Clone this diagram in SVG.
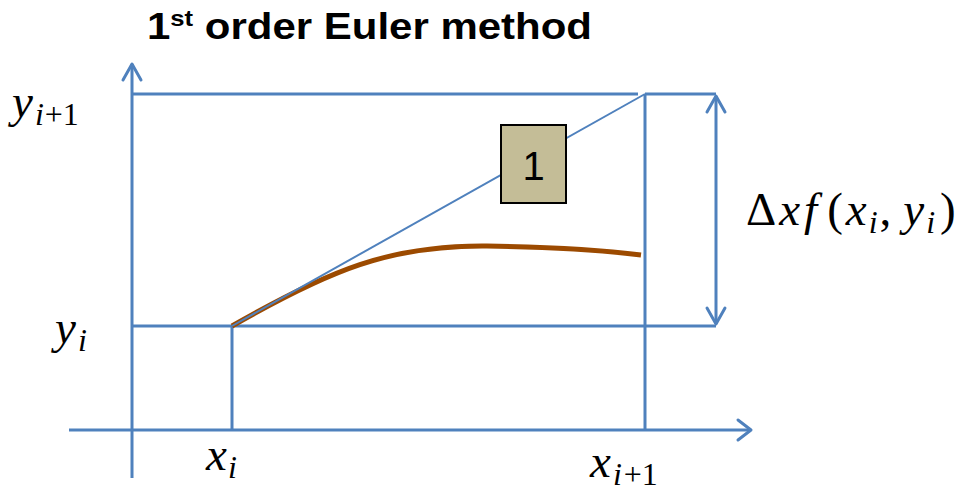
<svg xmlns="http://www.w3.org/2000/svg" width="969" height="492" viewBox="0 0 969 492">
<style>
.ln{stroke:#4F81BD;stroke-width:3;fill:none}
.ah{stroke:#4F81BD;stroke-width:3;fill:none;stroke-linecap:round;stroke-linejoin:round}
.m{font-family:"Liberation Serif","DejaVu Serif",serif;font-style:italic;font-size:47px;fill:#000}
.s{font-size:32px}
.u{font-style:normal}
</style>
<rect width="969" height="492" fill="#fff"/>
<text x="147" y="39" font-family="Liberation Sans,Arial,sans-serif" font-weight="bold" font-size="36" fill="#000" textLength="445" lengthAdjust="spacingAndGlyphs">1<tspan font-size="22" dy="-13">st</tspan><tspan dy="13"> order Euler method</tspan></text>
<g id="connectors">
<line class="ln" x1="132" y1="478" x2="132" y2="64"/>
<polyline class="ah" points="123,80 132,64 141,80"/>
<line class="ln" x1="69" y1="430" x2="751" y2="430"/>
<polyline class="ah" points="738,420 751,430 738,440"/>
<line class="ln" x1="132" y1="94" x2="638" y2="94"/>
<line class="ln" x1="645" y1="94" x2="716" y2="94"/>
<line class="ln" x1="645" y1="94" x2="645" y2="430"/>
<line class="ln" x1="132" y1="326" x2="716" y2="326"/>
<line class="ln" x1="232" y1="326" x2="232" y2="430"/>
<line class="ln" x1="716" y1="96" x2="716" y2="324"/>
<polyline class="ah" points="707,112 716,96 725,112"/>
<polyline class="ah" points="707,308 716,324 725,308"/>
<path d="M232,326 C330,270 390,245 487,246 C560,247 610,251 641,255" stroke="#9C4A00" stroke-width="5" fill="none"/>
<line x1="232" y1="326" x2="645" y2="94" stroke="#4F81BD" stroke-width="2"/>
</g>
<g id="box1">
<rect x="501" y="125" width="65" height="78" fill="#C4BD97" stroke="#000" stroke-width="2"/>
<text x="533.5" y="180" text-anchor="middle" font-family="Liberation Sans,Arial,sans-serif" font-size="40" fill="#000">1</text>
</g>
<g id="labels">
<text class="m" x="12" y="117">y<tspan class="s" dy="8" dx="2">i</tspan><tspan class="s u" dx="1">+1</tspan></text>
<text class="m" x="55" y="343">y<tspan class="s" dy="8" dx="2">i</tspan></text>
<text class="m" x="206" y="470">x<tspan class="s" dy="8" dx="1">i</tspan></text>
<text class="m" x="590" y="477">x<tspan class="s" dy="8" dx="2">i</tspan><tspan class="s u" dx="2">+1</tspan></text>
<text class="m" x="746" y="225"><tspan class="u">Δ</tspan><tspan dx="3">x</tspan><tspan dx="4">f</tspan><tspan class="u" dx="10">(</tspan><tspan dx="3">x</tspan><tspan class="s" dy="8" dx="2">i</tspan><tspan class="u" dy="-8" dx="2">,</tspan><tspan dx="12">y</tspan><tspan class="s" dy="8" dx="2">i</tspan><tspan class="u" dy="-8" dx="5">)</tspan></text>
</g>
</svg>
